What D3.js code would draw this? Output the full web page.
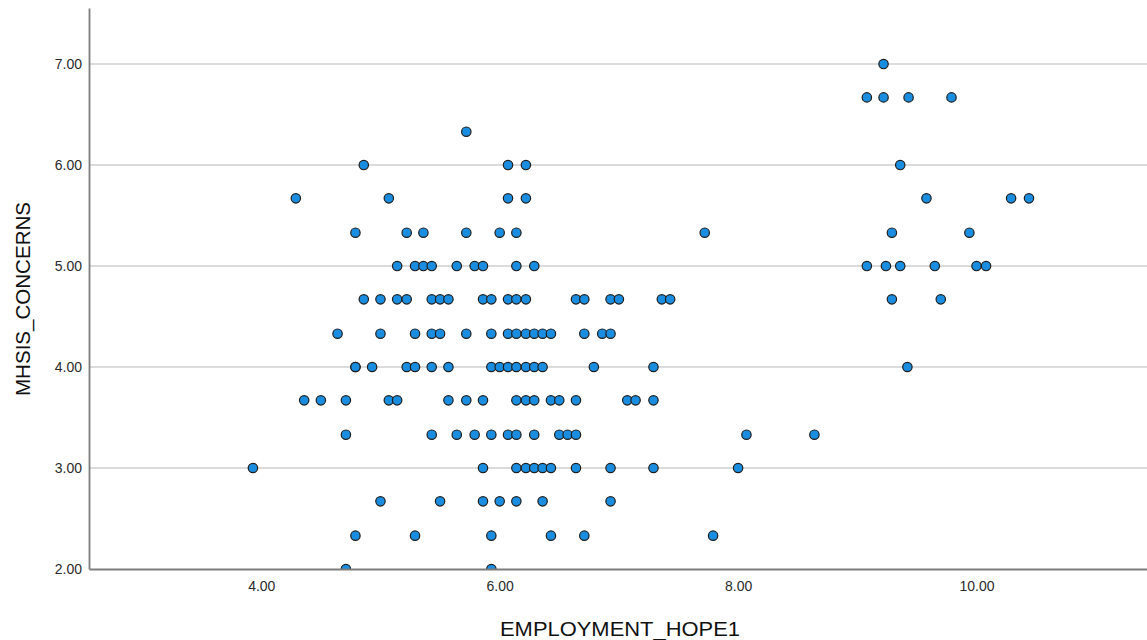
<!DOCTYPE html>
<html>
<head>
<meta charset="utf-8">
<script src="https://cdn.jsdelivr.net/npm/d3@7"></script>
<style>
  html, body { margin: 0; padding: 0; background: #ffffff; }
  svg { display: block; }
  text { font-family: Arial, "Liberation Sans", sans-serif; }
</style>
</head>
<body>
<svg id="chart" width="1147" height="640"></svg>
<script>
// EMPLOYMENT_HOPE1 scores for each MHSIS_CONCERNS level
const hopeAt700 = [9.22];
const hopeAt667 = [9.08, 9.22, 9.43, 9.79];
const hopeAt633 = [5.72];
const hopeAt600 = [4.86, 6.07, 6.22, 9.36];
const hopeAt567 = [4.29, 5.07, 6.07, 6.22, 9.58, 10.29, 10.44];
const hopeAt533 = [4.79, 5.22, 5.36, 5.72, 6.00, 6.14, 7.72, 9.29, 9.94];
const hopeAt500 = [5.14, 5.29, 5.36, 5.43, 5.64, 5.79, 5.86, 6.14, 6.29, 9.08, 9.24, 9.36, 9.65, 10.00, 10.08];
const hopeAt467 = [4.86, 5.00, 5.14, 5.22, 5.43, 5.50, 5.57, 5.86, 5.93, 6.07, 6.14, 6.22, 6.64, 6.71, 6.93, 7.00, 7.36, 7.43, 9.29, 9.70];
const hopeAt433 = [4.64, 5.00, 5.29, 5.43, 5.50, 5.72, 5.93, 6.07, 6.14, 6.22, 6.29, 6.36, 6.43, 6.71, 6.86, 6.93];
const hopeAt400 = [4.79, 4.79, 4.93, 5.22, 5.29, 5.43, 5.57, 5.93, 6.00, 6.07, 6.14, 6.22, 6.29, 6.36, 6.79, 7.29, 9.42];
const hopeAt367 = [4.36, 4.50, 4.71, 5.07, 5.14, 5.57, 5.72, 5.86, 6.14, 6.22, 6.29, 6.43, 6.50, 6.64, 7.07, 7.14, 7.29];
const hopeAt333 = [4.71, 5.43, 5.64, 5.79, 5.93, 6.07, 6.14, 6.29, 6.50, 6.57, 6.64, 8.07, 8.64];
const hopeAt300 = [3.93, 5.86, 6.14, 6.22, 6.29, 6.36, 6.43, 6.64, 6.93, 7.29, 8.00];
const hopeAt267 = [5.00, 5.50, 5.86, 6.00, 6.14, 6.36, 6.93];
const hopeAt233 = [4.79, 5.29, 5.93, 6.43, 6.71, 7.79];
const hopeAt200 = [4.71, 5.93];

const concernLevels = [7.00, 6.67, 6.33, 6.00, 5.67, 5.33, 5.00, 4.67, 4.33, 4.00, 3.67, 3.33, 3.00, 2.67, 2.33, 2.00];
const hopeByLevel = [hopeAt700, hopeAt667, hopeAt633, hopeAt600, hopeAt567, hopeAt533, hopeAt500, hopeAt467,
                     hopeAt433, hopeAt400, hopeAt367, hopeAt333, hopeAt300, hopeAt267, hopeAt233, hopeAt200];

const xTicks = [4, 6, 8, 10];
const yTicks = [2, 3, 4, 5, 6, 7];
const xTitle = "EMPLOYMENT_HOPE1";
const yTitle = "MHSIS_CONCERNS";

// paired observations
const points = [];
concernLevels.forEach((lvl, i) => {
  hopeByLevel[i].forEach(h => points.push({ hope: h, concern: lvl }));
});

const svg = d3.select("#chart");
const plot = { left: 89, right: 1147, top: 8, bottom: 569 };

const x = d3.scaleLinear().domain([2.555, 11.43]).range([plot.left, plot.right]);
const y = d3.scaleLinear().domain([2, 7.555]).range([plot.bottom, plot.top]);

svg.append("defs").append("clipPath").attr("id", "plotClip")
  .append("rect")
  .attr("x", plot.left).attr("y", plot.top)
  .attr("width", plot.right - plot.left).attr("height", plot.bottom - plot.top);

// horizontal grid lines
svg.append("g")
  .selectAll("line")
  .data(yTicks.filter(t => t > 2))
  .join("line")
  .attr("x1", plot.left).attr("x2", plot.right)
  .attr("y1", d => y(d)).attr("y2", d => y(d))
  .attr("stroke", "#cfcfcf")
  .attr("stroke-width", 1.6);

// points
svg.append("g")
  .attr("clip-path", "url(#plotClip)")
  .selectAll("circle")
  .data(points)
  .join("circle")
  .attr("cx", d => x(d.hope))
  .attr("cy", d => y(d.concern))
  .attr("r", 4.7)
  .attr("fill", "#1a8de0")
  .attr("stroke", "#1e1e1e")
  .attr("stroke-width", 1.2);

// axes
const xAxis = d3.axisBottom(x).tickValues(xTicks).tickFormat(d3.format(".2f")).tickSize(0).tickPadding(12);
const yAxis = d3.axisLeft(y).tickValues(yTicks).tickFormat(d3.format(".2f")).tickSize(0).tickPadding(7);

const gx = svg.append("g").attr("transform", `translate(0,${plot.bottom})`).call(xAxis);
const gy = svg.append("g").attr("transform", `translate(${plot.left},0)`).call(yAxis);

[gx, gy].forEach(g => {
  g.select(".domain").attr("stroke", "#7d7d7d").attr("stroke-width", 1.8);
  g.selectAll("text").attr("font-size", 14).attr("fill", "#2b2b2b")
    .attr("font-family", "Arial, 'Liberation Sans', sans-serif");
});

// axis titles
svg.append("text")
  .attr("x", 620)
  .attr("y", 636)
  .attr("text-anchor", "middle")
  .attr("font-size", 20)
  .attr("fill", "#111")
  .attr("textLength", 240)
  .attr("lengthAdjust", "spacingAndGlyphs")
  .text(xTitle);

svg.append("text")
  .attr("transform", `translate(30,299) rotate(-90)`)
  .attr("text-anchor", "middle")
  .attr("font-size", 20)
  .attr("fill", "#111")
  .attr("textLength", 194)
  .attr("lengthAdjust", "spacingAndGlyphs")
  .text(yTitle);
</script>
</body>
</html>
